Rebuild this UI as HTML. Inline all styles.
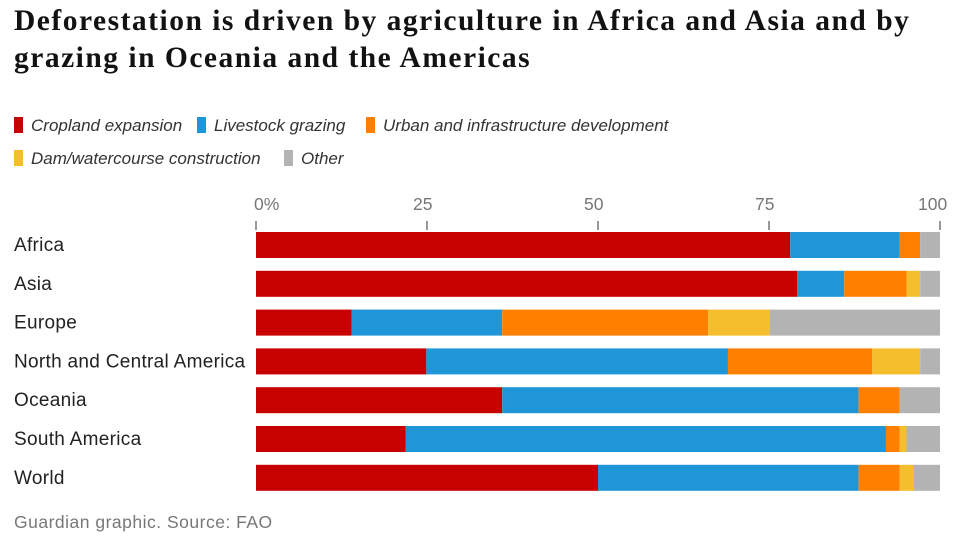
<!DOCTYPE html>
<html><head><meta charset="utf-8"><style>
body{margin:0;background:#fff;width:954px;height:541px;overflow:hidden;font-family:"Liberation Sans",sans-serif;position:relative}
#title{position:absolute;left:14px;top:3px;font-family:"Liberation Serif",serif;font-weight:bold;font-size:29.5px;line-height:37px;color:#121212;letter-spacing:1.5px}
.leg{position:absolute;font-size:17px;font-style:italic;color:#333;white-space:nowrap}
.sw{display:inline-block;width:9px;height:16px;vertical-align:-2px;margin-right:8px}
#src{position:absolute;left:14px;top:512px;font-size:17.5px;color:#777;letter-spacing:0.5px}
</style></head><body>
<div id="title">Deforestation is driven by agriculture in Africa and Asia and by<br>grazing in Oceania and the Americas</div>
<div class="leg" style="left:14px;top:116px"><span class="sw" style="background:#c70000"></span>Cropland expansion</div>
<div class="leg" style="left:197px;top:116px"><span class="sw" style="background:#1e96d8"></span>Livestock grazing</div>
<div class="leg" style="left:366px;top:116px"><span class="sw" style="background:#ff7f00"></span>Urban and infrastructure development</div>
<div class="leg" style="left:14px;top:149px"><span class="sw" style="background:#f5be2c"></span>Dam/watercourse construction</div>
<div class="leg" style="left:284px;top:149px"><span class="sw" style="background:#b3b3b3"></span>Other</div>
<svg id="chart" width="954" height="541" style="position:absolute;left:0;top:0"></svg>
<div id="src">Guardian graphic. Source: FAO</div>
<script>
const categories=["Africa","Asia","Europe","North and Central America","Oceania","South America","World"];
const cropland=[78.1,79.1,14.0,24.9,36.0,21.9,50.0];
const livestock=[16.0,6.9,22.0,44.1,52.1,70.2,38.1];
const urban=[3.0,9.1,30.1,21.1,6.0,2.0,6.0];
const dam=[0,2.0,9.0,7.0,0,1.0,2.1];
const other=[2.9,2.9,24.9,2.9,5.9,4.9,3.8];
const ticks=[0,25,50,75,100];
const seriesList=[cropland,livestock,urban,dam,other];
const seriesNames=["cropland","livestock","urban","dam","other"];
const colors=["#c70000","#1e96d8","#ff7f00","#f5be2c","#b3b3b3"];
const NS="http://www.w3.org/2000/svg";
const svg=document.getElementById('chart');
const x0=256,x1=940;
const xs=v=>x0+(x1-x0)*v/100;
const rowY=i=>232+i*38.8;
const barH=26;
function mk(t,a){const e=document.createElementNS(NS,t);for(const k in a)e.setAttribute(k,a[k]);svg.appendChild(e);return e;}
ticks.forEach((t,i)=>{
  const l=mk('line',{x1:xs(t),x2:xs(t),y1:221,y2:230,stroke:'#333','stroke-width':1});
  
  
  const tx=mk('text',{x:xs(t)+(i==0?-2:(i==4?-22:-14)),y:210,'font-size':17.5,fill:'#777','font-family':'Liberation Sans, sans-serif'});
  tx.textContent=i==0?t+'%':t;
  
  
});
categories.forEach((c,i)=>{
  const y=rowY(i);
  const tx=mk('text',{x:14,y:y+19,'font-size':19,fill:'#222','font-family':'Liberation Sans, sans-serif','letter-spacing':0.3});
  tx.textContent=c;
  
  
  let acc=0;
  seriesList.forEach((s,k)=>{
    const v=s[i];
    if(v>0){
      const r=mk('rect',{x:xs(acc),y:y,width:xs(acc+v)-xs(acc),height:barH,fill:colors[k]});
      
      
    }
    acc+=v;
  });
});
</script>
</body></html>
